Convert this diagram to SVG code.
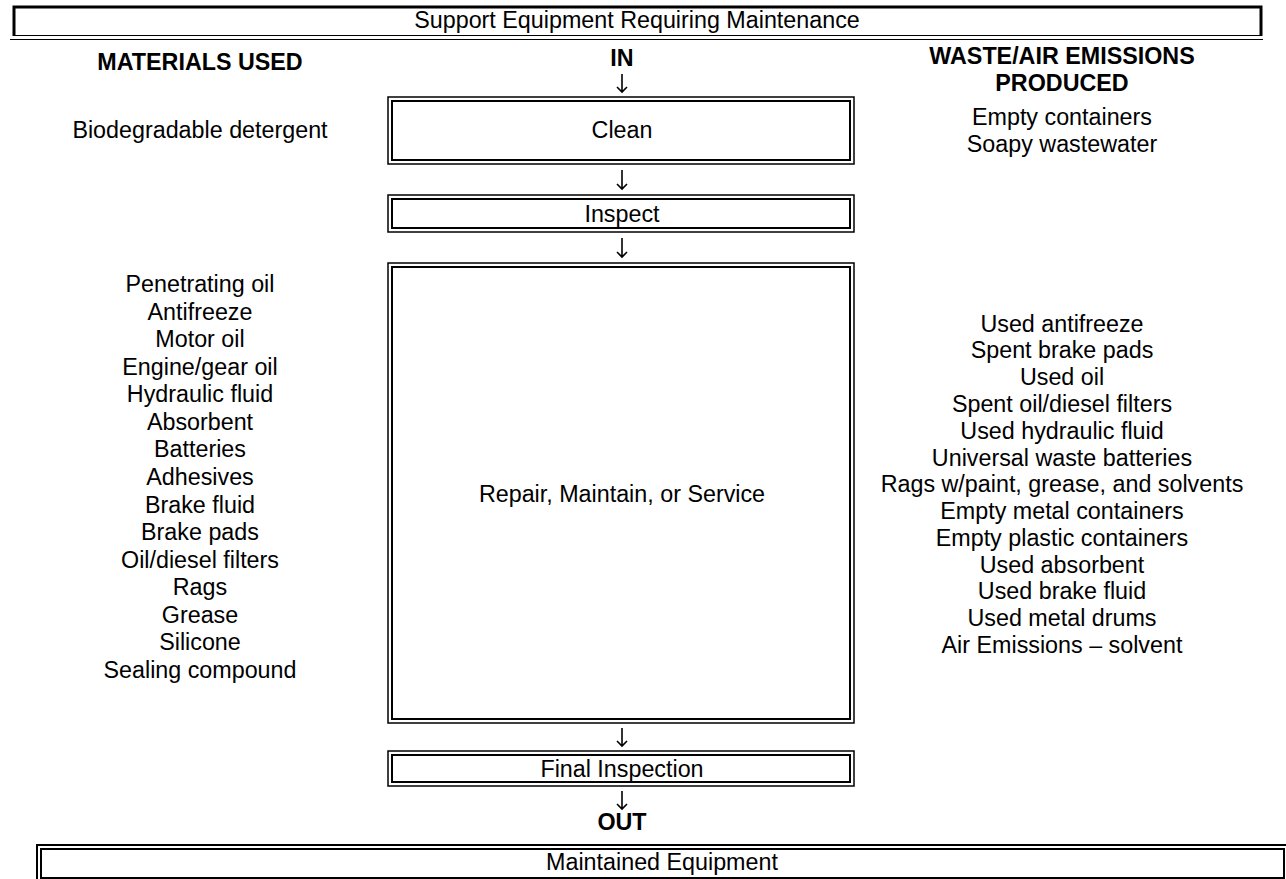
<svg xmlns="http://www.w3.org/2000/svg" width="1286" height="879" viewBox="0 0 1286 879">
  <style>
    text { font-family: "Liberation Sans", Arial, sans-serif; font-size: 23.3px; fill: #000; text-anchor: middle; }
    .hd { font-weight: bold; }
    .outer { fill: none; stroke: #000; stroke-width: 1.5; }
    .inner { fill: none; stroke: #000; stroke-width: 2; }
    .thick { fill: none; stroke: #000; stroke-width: 3; }
    .thin { fill: none; stroke: #000; stroke-width: 1.2; }
    .arrow { fill: none; stroke: #000; stroke-width: 1.6; }
  </style>
  <rect width="1286" height="879" fill="#fff"/>

  <!-- input banner -->
  <g id="node-input">
    <path class="thick" d="M14,36 V7 H1261 V36"/>
    <line class="thin" x1="14" y1="35.5" x2="1261" y2="35.5"/>
    <line class="thin" x1="10" y1="39.5" x2="1263" y2="39.5"/>
    <text x="637" y="28">Support Equipment Requiring Maintenance</text>
  </g>

  <!-- column headings -->
  <g id="headings">
    <text class="hd" x="200" y="70">MATERIALS USED</text>
    <text class="hd" x="622" y="66">IN</text>
    <text class="hd" x="1062" y="64">WASTE/AIR EMISSIONS</text>
    <text class="hd" x="1062" y="91">PRODUCED</text>
  </g>

  <!-- step: clean -->
  <g id="node-clean">
    <rect class="outer" x="388" y="97" width="466" height="67"/>
    <rect class="inner" x="392" y="101" width="458" height="59"/>
    <text x="622" y="138">Clean</text>
  </g>
  <g id="clean-materials">
    <text x="200" y="138">Biodegradable detergent</text>
  </g>
  <g id="clean-waste">
    <text x="1062" y="125">Empty containers</text>
    <text x="1062" y="152">Soapy wastewater</text>
  </g>

  <!-- step: inspect -->
  <g id="node-inspect">
    <rect class="outer" x="388" y="195" width="466" height="37"/>
    <rect class="inner" x="392" y="199" width="458" height="29"/>
    <text x="622" y="222">Inspect</text>
  </g>

  <!-- step: repair -->
  <g id="node-repair">
    <rect class="outer" x="388" y="263" width="466" height="460"/>
    <rect class="inner" x="392" y="267" width="458" height="452"/>
    <text x="622" y="502">Repair, Maintain, or Service</text>
  </g>
  <g id="repair-materials">
    <text x="200" y="292">Penetrating oil</text>
    <text x="200" y="320">Antifreeze</text>
    <text x="200" y="347">Motor oil</text>
    <text x="200" y="375">Engine/gear oil</text>
    <text x="200" y="402">Hydraulic fluid</text>
    <text x="200" y="430">Absorbent</text>
    <text x="200" y="457">Batteries</text>
    <text x="200" y="485">Adhesives</text>
    <text x="200" y="513">Brake fluid</text>
    <text x="200" y="540">Brake pads</text>
    <text x="200" y="568">Oil/diesel filters</text>
    <text x="200" y="595">Rags</text>
    <text x="200" y="623">Grease</text>
    <text x="200" y="650">Silicone</text>
    <text x="200" y="678">Sealing compound</text>
  </g>
  <g id="repair-waste">
    <text x="1062" y="332">Used antifreeze</text>
    <text x="1062" y="358">Spent brake pads</text>
    <text x="1062" y="385">Used oil</text>
    <text x="1062" y="412">Spent oil/diesel filters</text>
    <text x="1062" y="439">Used hydraulic fluid</text>
    <text x="1062" y="466">Universal waste batteries</text>
    <text x="1062" y="492">Rags w/paint, grease, and solvents</text>
    <text x="1062" y="519">Empty metal containers</text>
    <text x="1062" y="546">Empty plastic containers</text>
    <text x="1062" y="573">Used absorbent</text>
    <text x="1062" y="599">Used brake fluid</text>
    <text x="1062" y="626">Used metal drums</text>
    <text x="1062" y="653">Air Emissions – solvent</text>
  </g>

  <!-- step: final inspection -->
  <g id="node-final">
    <rect class="outer" x="388" y="751" width="466" height="35"/>
    <rect class="inner" x="392" y="755" width="458" height="27"/>
    <text x="622" y="777">Final Inspection</text>
  </g>

  <text class="hd" x="622" y="830">OUT</text>

  <!-- output banner -->
  <g id="node-output">
    <path class="inner" d="M37,879 V845 H1286"/>
    <rect class="inner" x="41" y="849" width="1243" height="29"/>
    <text x="662" y="870">Maintained Equipment</text>
  </g>

  <!-- flow arrows -->
  <g id="connectors">
    <path class="arrow" d="M622,74 V92 M617,87 L622,92 L627,87"/>
    <path class="arrow" d="M622,170 V189 M617,184 L622,189 L627,184"/>
    <path class="arrow" d="M622,238 V257 M617,252 L622,257 L627,252"/>
    <path class="arrow" d="M622,728 V746 M617,741 L622,746 L627,741"/>
    <path class="arrow" d="M622,791 V809 M617,804 L622,809 L627,804"/>
  </g>
</svg>
